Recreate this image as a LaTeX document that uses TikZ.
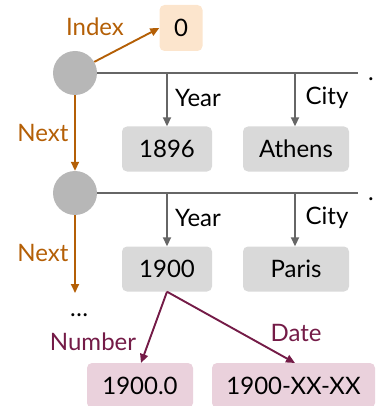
\documentclass[tikz,border=0pt]{standalone}
\usepackage{fontspec}
\setmainfont{Lato}
\usetikzlibrary{arrows.meta}
\definecolor{orangeT}{HTML}{B45F06}
\definecolor{purpleT}{HTML}{741B47}
\definecolor{orangeF}{HTML}{FCE5CD}
\definecolor{pinkF}{HTML}{EAD1DC}
\definecolor{grayF}{HTML}{D9D9D9}
\definecolor{circF}{HTML}{B7B7B7}
\definecolor{lineG}{HTML}{666666}
\begin{document}
\begin{tikzpicture}[x=1pt,y=-1pt,
  font=\fontsize{24}{28}\selectfont,
  valbox/.style={rounded corners=5pt,inner sep=0pt,minimum height=45pt},
  graybox/.style={valbox,fill=grayF},
  pinkbox/.style={valbox,fill=pinkF},
  orbox/.style={valbox,fill=orangeF,minimum height=46pt,minimum width=43pt},
  rec/.style={circle,fill=circF,minimum size=44pt,inner sep=0pt},
  garrow/.style={draw=lineG,line width=1.9pt,-{Triangle[length=9pt,width=8pt]}},
  gline/.style={draw=lineG,line width=1.9pt},
  oarrow/.style={draw=orangeT,line width=1.9pt,-{Triangle[length=9pt,width=8pt]}},
  parrow/.style={draw=purpleT,line width=1.9pt,-{Triangle[length=9pt,width=8pt]}},
  olabel/.style={text=orangeT},
  plabel/.style={text=purpleT},
]
\useasboundingbox (0,0) rectangle (377,406);
\begin{scope}
\clip (0,0) rectangle (377,406);
% nodes
\node[orbox] (idx) at (181,28) {0};
\node[rec] (c1) at (75,73) {};
\node[rec] (c2) at (75,193) {};
\node[graybox,minimum width=90pt] (y1) at (167,149) {1896};
\node[graybox,minimum width=106pt] (a1) at (296,149) {Athens};
\node[graybox,minimum width=90pt] (y2) at (167,269) {1900};
\node[graybox,minimum width=106pt] (p2) at (296,269) {Paris};
\node[pinkbox,minimum width=106pt] (num) at (140,385.5) {1900.0};
\node[pinkbox,minimum width=163pt] (dat) at (293.5,385.5) {1900-XX-XX};
% coordinates
\coordinate (e1) at (358,73);
\coordinate (e2) at (358,193);
\coordinate (b1y) at (167,73);
\coordinate (b1c) at (295,73);
\coordinate (b2y) at (167,193);
\coordinate (b2c) at (295,193);
\coordinate (nx) at (75,293);
% lines
\draw[gline] (c1.east) -- (e1);
\draw[gline] (c2.east) -- (e2);
\draw[garrow] (b1y) -- (y1.north);
\draw[garrow] (b1c) -- (b1c |- a1.north);
\draw[garrow] (b2y) -- (y2.north);
\draw[garrow] (b2c) -- (b2c |- p2.north);
\draw[oarrow] (c1.30) -- (idx.west);
\draw[oarrow] (c1.south) -- (c2.north);
\draw[oarrow] (c2.south) -- (nx);
\draw[parrow] (y2.south) -- (141,363) coordinate (na);
\draw[parrow] (y2.south) -- (295,363) coordinate (da);
% labels
\node[olabel] (lidx) at (95,27) {Index};
\node[olabel] (lnx1) at (43,133) {Next};
\node[olabel] (lnx2) at (43,253) {Next};
\node (ly1) at (198,98) {Year};
\node (lc1) at (327,98) {City};
\node (ly2) at (198,218) {Year};
\node (lc2) at (327,218) {City};
\node[plabel] (lnum) at (93,342) {Number};
\node[plabel] (ldat) at (296,333) {Date};
\node[anchor=base] (dots) at (79,316) {\ldots};
\node[anchor=base] (d1) at (371,80.5) {.};
\node[anchor=base] (d2) at (371,200.5) {.};
\end{scope}
\end{tikzpicture}
\end{document}
